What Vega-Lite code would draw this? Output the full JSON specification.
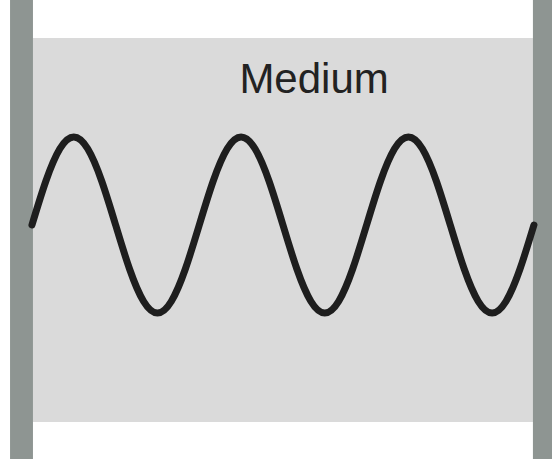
{
  "$schema": "https://vega.github.io/schema/vega-lite/v6.json",
  "width": 552,
  "height": 459,
  "autosize": {"type": "fit", "contains": "padding"},
  "padding": 0,
  "background": "white",
  "config": {"view": {"stroke": null}},
  "datasets": {
    "medium": [{"x0": 0.006, "x1": 2.994, "y0": -2.239, "y1": 2.125}],
    "walls": [
      {"side": "left", "x0": -0.131, "x1": 0.006, "y0": -2.659, "y1": 2.557},
      {"side": "right", "x0": 2.994, "x1": 3.108, "y0": -2.659, "y1": 2.557}
    ],
    "wave": [
      {"t": 0, "a": 0}, {"t": 0.0833, "a": 0.5}, {"t": 0.1667, "a": 0.866}, {"t": 0.25, "a": 1},
      {"t": 0.3333, "a": 0.866}, {"t": 0.4167, "a": 0.5}, {"t": 0.5, "a": 0}, {"t": 0.5833, "a": -0.5},
      {"t": 0.6667, "a": -0.866}, {"t": 0.75, "a": -1}, {"t": 0.8333, "a": -0.866}, {"t": 0.9167, "a": -0.5},
      {"t": 1, "a": 0}, {"t": 1.0833, "a": 0.5}, {"t": 1.1667, "a": 0.866}, {"t": 1.25, "a": 1},
      {"t": 1.3333, "a": 0.866}, {"t": 1.4167, "a": 0.5}, {"t": 1.5, "a": 0}, {"t": 1.5833, "a": -0.5},
      {"t": 1.6667, "a": -0.866}, {"t": 1.75, "a": -1}, {"t": 1.8333, "a": -0.866}, {"t": 1.9167, "a": -0.5},
      {"t": 2, "a": 0}, {"t": 2.0833, "a": 0.5}, {"t": 2.1667, "a": 0.866}, {"t": 2.25, "a": 1},
      {"t": 2.3333, "a": 0.866}, {"t": 2.4167, "a": 0.5}, {"t": 2.5, "a": 0}, {"t": 2.5833, "a": -0.5},
      {"t": 2.6667, "a": -0.866}, {"t": 2.75, "a": -1}, {"t": 2.8333, "a": -0.866}, {"t": 2.9167, "a": -0.5},
      {"t": 3, "a": 0}
    ],
    "label": [{"t": 1.686, "a": 1.5, "text": "Medium"}]
  },
  "layer": [
    {
      "data": {"name": "medium"},
      "mark": {"type": "rect", "color": "#dadada"},
      "encoding": {
        "x": {"field": "x0", "type": "quantitative", "scale": {"domain": [-0.191, 3.108], "nice": false, "zero": false}, "axis": null},
        "x2": {"field": "x1"},
        "y": {"field": "y0", "type": "quantitative", "scale": {"domain": [-2.659, 2.557], "nice": false, "zero": false}, "axis": null},
        "y2": {"field": "y1"}
      }
    },
    {
      "data": {"name": "walls"},
      "mark": {"type": "rect", "color": "#8e9592"},
      "encoding": {
        "x": {"field": "x0", "type": "quantitative", "axis": null},
        "x2": {"field": "x1"},
        "y": {"field": "y0", "type": "quantitative", "axis": null},
        "y2": {"field": "y1"}
      }
    },
    {
      "data": {"name": "wave"},
      "mark": {"type": "line", "color": "#1e1e1e", "strokeWidth": 7, "interpolate": "natural", "strokeCap": "round"},
      "encoding": {
        "x": {"field": "t", "type": "quantitative", "axis": null},
        "y": {"field": "a", "type": "quantitative", "axis": null}
      }
    },
    {
      "data": {"name": "label"},
      "mark": {"type": "text", "font": "Liberation Sans", "fontSize": 42, "color": "#222222", "align": "center", "baseline": "alphabetic"},
      "encoding": {
        "x": {"field": "t", "type": "quantitative", "axis": null},
        "y": {"field": "a", "type": "quantitative", "axis": null},
        "text": {"field": "text"}
      }
    }
  ]
}
